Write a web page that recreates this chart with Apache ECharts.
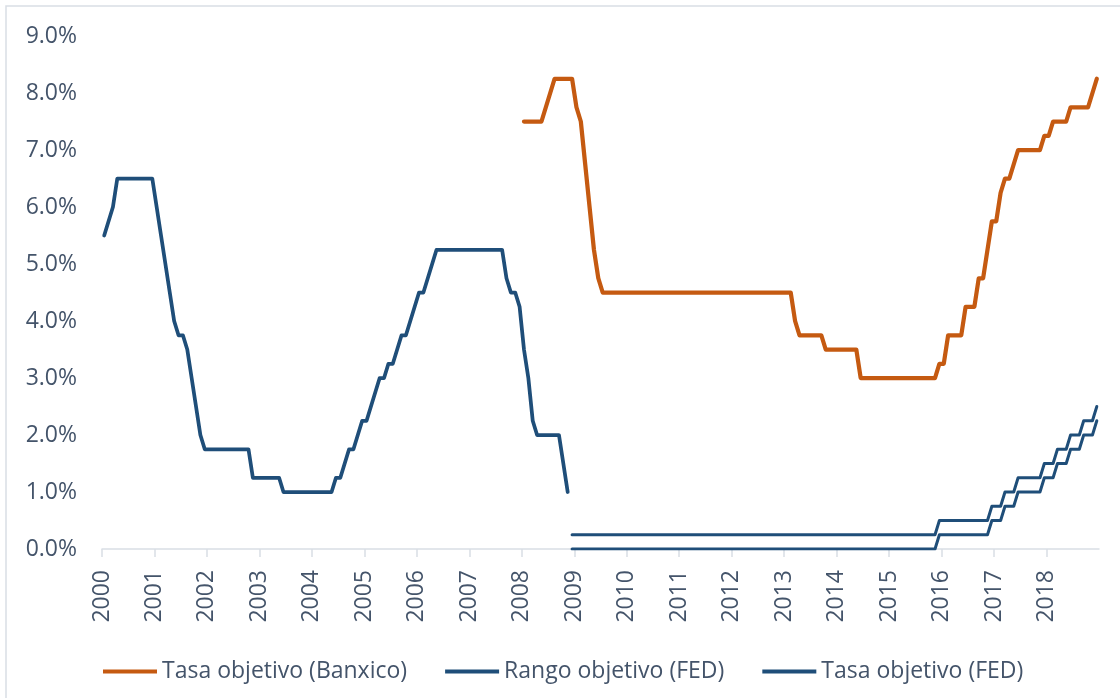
<!DOCTYPE html>
<html>
<head>
<meta charset="utf-8">
<script src="https://cdn.jsdelivr.net/npm/echarts@6/dist/echarts.min.js"></script>
<style>
  html, body { margin: 0; padding: 0; background: #fff; }
  #chart { width: 1120px; height: 698px; }
</style>
</head>
<body>
<div id="chart"></div>
<script>
// tick labels, one per year (month index 0 = Jan 2000)
const years = [2000, 2001, 2002, 2003, 2004, 2005, 2006, 2007, 2008, 2009,
               2010, 2011, 2012, 2013, 2014, 2015, 2016, 2017, 2018];

// Tasa objetivo (FED), monthly from Jan 2000 to Nov 2008
const fedTasaStart = 0;
const fedTasa = [
  5.5, 5.75, 6.0, 6.5, 6.5, 6.5, 6.5, 6.5, 6.5, 6.5, 6.5, 6.5,            // 2000
  6.0, 5.5, 5.0, 4.5, 4.0, 3.75, 3.75, 3.5, 3.0, 2.5, 2.0, 1.75,           // 2001
  1.75, 1.75, 1.75, 1.75, 1.75, 1.75, 1.75, 1.75, 1.75, 1.75, 1.25, 1.25, // 2002
  1.25, 1.25, 1.25, 1.25, 1.25, 1.0, 1.0, 1.0, 1.0, 1.0, 1.0, 1.0,         // 2003
  1.0, 1.0, 1.0, 1.0, 1.0, 1.25, 1.25, 1.5, 1.75, 1.75, 2.0, 2.25,         // 2004
  2.25, 2.5, 2.75, 3.0, 3.0, 3.25, 3.25, 3.5, 3.75, 3.75, 4.0, 4.25,       // 2005
  4.5, 4.5, 4.75, 5.0, 5.25, 5.25, 5.25, 5.25, 5.25, 5.25, 5.25, 5.25,     // 2006
  5.25, 5.25, 5.25, 5.25, 5.25, 5.25, 5.25, 5.25, 4.75, 4.5, 4.5, 4.25,   // 2007
  3.5, 3.0, 2.25, 2.0, 2.0, 2.0, 2.0, 2.0, 2.0, 1.5, 1.0                   // 2008 (to Nov)
];

// Tasa objetivo (Banxico), monthly from Jan 2008
const banxicoStart = 96;
const banxico = [
  7.5, 7.5, 7.5, 7.5, 7.5, 7.75, 8.0, 8.25, 8.25, 8.25, 8.25, 8.25,       // 2008
  7.75, 7.5, 6.75, 6.0, 5.25, 4.75, 4.5, 4.5, 4.5, 4.5, 4.5, 4.5,         // 2009
  4.5, 4.5, 4.5, 4.5, 4.5, 4.5, 4.5, 4.5, 4.5, 4.5, 4.5, 4.5,             // 2010
  4.5, 4.5, 4.5, 4.5, 4.5, 4.5, 4.5, 4.5, 4.5, 4.5, 4.5, 4.5,             // 2011
  4.5, 4.5, 4.5, 4.5, 4.5, 4.5, 4.5, 4.5, 4.5, 4.5, 4.5, 4.5,             // 2012
  4.5, 4.5, 4.0, 3.75, 3.75, 3.75, 3.75, 3.75, 3.75, 3.5, 3.5, 3.5,       // 2013
  3.5, 3.5, 3.5, 3.5, 3.5, 3.0, 3.0, 3.0, 3.0, 3.0, 3.0, 3.0,             // 2014
  3.0, 3.0, 3.0, 3.0, 3.0, 3.0, 3.0, 3.0, 3.0, 3.0, 3.0, 3.25,            // 2015
  3.25, 3.75, 3.75, 3.75, 3.75, 4.25, 4.25, 4.25, 4.75, 4.75, 5.25, 5.75, // 2016
  5.75, 6.25, 6.5, 6.5, 6.75, 7.0, 7.0, 7.0, 7.0, 7.0, 7.0, 7.25,         // 2017
  7.25, 7.5, 7.5, 7.5, 7.5, 7.75, 7.75, 7.75, 7.75, 7.75, 8.0, 8.25       // 2018
];

// Rango objetivo (FED), lower and upper bound, monthly from Dec 2008
const rangoStart = 107;
const rangoBajo = [
  0,                                                                       // 2008 Dec
  0, 0, 0, 0, 0, 0, 0, 0, 0, 0, 0, 0,                                      // 2009
  0, 0, 0, 0, 0, 0, 0, 0, 0, 0, 0, 0,                                      // 2010
  0, 0, 0, 0, 0, 0, 0, 0, 0, 0, 0, 0,                                      // 2011
  0, 0, 0, 0, 0, 0, 0, 0, 0, 0, 0, 0,                                      // 2012
  0, 0, 0, 0, 0, 0, 0, 0, 0, 0, 0, 0,                                      // 2013
  0, 0, 0, 0, 0, 0, 0, 0, 0, 0, 0, 0,                                      // 2014
  0, 0, 0, 0, 0, 0, 0, 0, 0, 0, 0, 0.25,                                   // 2015
  0.25, 0.25, 0.25, 0.25, 0.25, 0.25, 0.25, 0.25, 0.25, 0.25, 0.25, 0.5,   // 2016
  0.5, 0.5, 0.75, 0.75, 0.75, 1.0, 1.0, 1.0, 1.0, 1.0, 1.0, 1.25,         // 2017
  1.25, 1.25, 1.5, 1.5, 1.5, 1.75, 1.75, 1.75, 2.0, 2.0, 2.0, 2.25        // 2018
];
const rangoAlto = [
  0.25,                                                                    // 2008 Dec
  0.25, 0.25, 0.25, 0.25, 0.25, 0.25, 0.25, 0.25, 0.25, 0.25, 0.25, 0.25,  // 2009
  0.25, 0.25, 0.25, 0.25, 0.25, 0.25, 0.25, 0.25, 0.25, 0.25, 0.25, 0.25,  // 2010
  0.25, 0.25, 0.25, 0.25, 0.25, 0.25, 0.25, 0.25, 0.25, 0.25, 0.25, 0.25,  // 2011
  0.25, 0.25, 0.25, 0.25, 0.25, 0.25, 0.25, 0.25, 0.25, 0.25, 0.25, 0.25,  // 2012
  0.25, 0.25, 0.25, 0.25, 0.25, 0.25, 0.25, 0.25, 0.25, 0.25, 0.25, 0.25,  // 2013
  0.25, 0.25, 0.25, 0.25, 0.25, 0.25, 0.25, 0.25, 0.25, 0.25, 0.25, 0.25,  // 2014
  0.25, 0.25, 0.25, 0.25, 0.25, 0.25, 0.25, 0.25, 0.25, 0.25, 0.25, 0.5,   // 2015
  0.5, 0.5, 0.5, 0.5, 0.5, 0.5, 0.5, 0.5, 0.5, 0.5, 0.5, 0.75,             // 2016
  0.75, 0.75, 1.0, 1.0, 1.0, 1.25, 1.25, 1.25, 1.25, 1.25, 1.25, 1.5,     // 2017
  1.5, 1.5, 1.75, 1.75, 1.75, 2.0, 2.0, 2.0, 2.25, 2.25, 2.25, 2.5        // 2018
];

const naranja = '#C55A11';
const azul = '#1F4E79';
const gris = '#44546A';
const fuente = '"Open Sans", "Noto Sans", sans-serif';

// month i is drawn in the middle of its month on the value axis
function toPoints(values, start) {
    return values.map((v, k) => [start + k + 0.5, v]);
}

const chart = echarts.init(document.getElementById('chart'));

const option = {
    animation: false,
    backgroundColor: '#fff',
    textStyle: { fontFamily: fuente },
    graphic: [
        {
            type: 'rect',
            shape: { x: 6, y: 6, width: 1300, height: 900 },
            style: { fill: 'none', stroke: '#D9DEE5', lineWidth: 1.5 },
            silent: true,
            z: -1
        }
    ],
    grid: { left: 102, right: 21, top: 36, bottom: 149 },
    legend: {
        left: 103,
        top: 660,
        padding: 0,
        itemWidth: 54,
        itemHeight: 4,
        itemGap: 38,
        icon: 'rect',
        textStyle: { fontFamily: fuente, fontSize: 23, color: gris },
        data: ['Tasa objetivo (Banxico)', 'Rango objetivo (FED)', 'Tasa objetivo (FED)']
    },
    xAxis: {
        type: 'value',
        min: 0,
        max: years.length * 12,
        interval: 12,
        splitLine: { show: false },
        axisLine: { show: true, lineStyle: { color: '#D9DEE5', width: 1.5 } },
        axisTick: { show: true, length: 8, lineStyle: { color: '#D9DEE5', width: 1.5 } },
        axisLabel: {
            rotate: 90,
            margin: 21,
            fontFamily: fuente,
            fontSize: 23,
            color: gris,
            showMaxLabel: false,
            formatter: function (v) {
                const k = Math.round(v / 12);
                return k < years.length ? String(years[k]) : '';
            }
        }
    },
    yAxis: {
        type: 'value',
        min: 0,
        max: 9,
        interval: 1,
        splitLine: { show: false },
        axisLine: { show: false },
        axisTick: { show: false },
        axisLabel: {
            margin: 25,
            fontFamily: fuente,
            fontSize: 23,
            color: gris,
            formatter: v => v.toFixed(1) + '%'
        }
    },
    series: [
        {
            name: 'Tasa objetivo (Banxico)',
            type: 'line',
            data: toPoints(banxico, banxicoStart),
            showSymbol: false,
            symbol: 'none',
            itemStyle: { color: naranja },
            lineStyle: { color: naranja, width: 4.25, cap: 'round', join: 'round' }
        },
        {
            name: 'Rango objetivo (FED)',
            type: 'line',
            data: toPoints(rangoBajo, rangoStart),
            showSymbol: false,
            symbol: 'none',
            itemStyle: { color: azul },
            lineStyle: { color: azul, width: 3, cap: 'round', join: 'round' }
        },
        {
            name: 'Rango objetivo (FED)',
            type: 'line',
            data: toPoints(rangoAlto, rangoStart),
            showSymbol: false,
            symbol: 'none',
            itemStyle: { color: azul },
            lineStyle: { color: azul, width: 3, cap: 'round', join: 'round' }
        },
        {
            name: 'Tasa objetivo (FED)',
            type: 'line',
            data: toPoints(fedTasa, fedTasaStart),
            showSymbol: false,
            symbol: 'none',
            itemStyle: { color: azul },
            lineStyle: { color: azul, width: 3.75, cap: 'round', join: 'round' }
        }
    ]
};

chart.setOption(option);
</script>
</body>
</html>
